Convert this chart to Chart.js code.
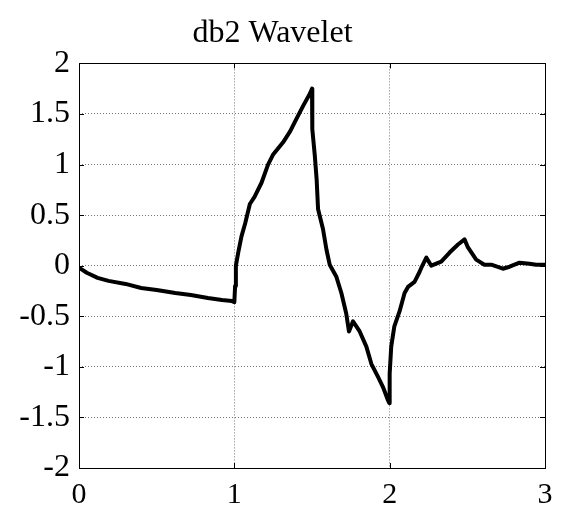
<!DOCTYPE html>
<html>
<head>
<meta charset="utf-8">
<script src="https://cdn.jsdelivr.net/npm/chart.js@4/dist/chart.umd.min.js"></script>
<style>
  html, body { margin: 0; padding: 0; background: #fff; }
  #wrap { width: 563px; height: 512px; }
</style>
</head>
<body>
<div id="wrap"><canvas id="wavelet"></canvas></div>
<script>
// wavelet function psi(t), sampled along the support [0, 3]
const waveT = [
  0, 0.05, 0.12, 0.19, 0.30, 0.40, 0.50, 0.62, 0.72, 0.83, 0.92, 0.985, 1.0,
  1.005, 1.01, 1.025, 1.046, 1.07, 1.10, 1.13, 1.175, 1.217, 1.25, 1.314, 1.36,
  1.389, 1.443, 1.486, 1.5, 1.502, 1.518, 1.53, 1.539, 1.571, 1.593, 1.614,
  1.657, 1.689, 1.72, 1.738, 1.764, 1.807, 1.85, 1.882, 1.925, 1.957, 1.989,
  1.998, 2.0, 2.01, 2.03, 2.064, 2.096, 2.118, 2.16, 2.193, 2.204, 2.236, 2.268,
  2.332, 2.386, 2.44, 2.482, 2.504, 2.557, 2.61, 2.654, 2.729, 2.772, 2.836,
  2.9, 2.943, 3.0
];
const waveV = [
  -0.02, -0.07, -0.12, -0.15, -0.18, -0.22, -0.24, -0.27, -0.29, -0.32, -0.34, -0.35, -0.36,
  -0.2, 0.0, 0.13, 0.29, 0.42, 0.61, 0.68, 0.82, 1.0, 1.10, 1.22, 1.33,
  1.42, 1.58, 1.70, 1.75, 1.35, 1.09, 0.85, 0.56, 0.36, 0.16, 0.01,
  -0.11, -0.27, -0.47, -0.65, -0.55, -0.65, -0.80, -0.97, -1.10, -1.20, -1.33,
  -1.36, -1.07, -0.80, -0.60, -0.45, -0.27, -0.21, -0.16, -0.06, -0.02, 0.08, 0.0,
  0.04, 0.13, 0.21, 0.26, 0.18, 0.06, 0.01, 0.01, -0.03, -0.01, 0.03,
  0.02, 0.01, 0.01
];
const xTicks = [0, 1, 2, 3];
const yTicks = [-2, -1.5, -1, -0.5, 0, 0.5, 1, 1.5, 2];

const serif = "'Liberation Serif', 'Times New Roman', serif";

// box around the axes plus short inward tick marks on all four sides
const axesBox = {
  id: "axesBox",
  afterDatasetsDraw(chart) {
    const { ctx, chartArea: a, scales } = chart;
    const len = 5;
    ctx.save();
    ctx.strokeStyle = "#000";
    ctx.lineWidth = 1;
    ctx.beginPath();
    xTicks.forEach((v) => {
      const px = Math.round(scales.x.getPixelForValue(v)) + 0.5;
      ctx.moveTo(px, a.bottom); ctx.lineTo(px, a.bottom - len);
      ctx.moveTo(px, a.top); ctx.lineTo(px, a.top + len);
    });
    yTicks.forEach((v) => {
      const py = Math.round(scales.y.getPixelForValue(v)) + 0.5;
      ctx.moveTo(a.left, py); ctx.lineTo(a.left + len, py);
      ctx.moveTo(a.right, py); ctx.lineTo(a.right - len, py);
    });
    ctx.stroke();
    ctx.strokeRect(Math.round(a.left) + 0.5, Math.round(a.top) + 0.5,
      Math.round(a.right - a.left), Math.round(a.bottom - a.top));
    ctx.restore();
  },
};

new Chart(document.getElementById("wavelet"), {
  type: "line",
  data: {
    datasets: [
      {
        data: waveT.map((t, i) => ({ x: t, y: waveV[i] })),
        borderColor: "#000",
        borderWidth: 4,
        borderJoinStyle: "round",
        borderCapStyle: "round",
        pointRadius: 0,
        tension: 0,
      },
    ],
  },
  options: {
    responsive: true,
    maintainAspectRatio: false,
    animation: false,
    layout: { padding: { left: 0, right: 18, top: 0, bottom: 0 } },
    plugins: {
      legend: { display: false },
      tooltip: { enabled: false },
      title: {
        display: true,
        text: "db2 Wavelet",
        color: "#000",
        font: { family: serif, size: 32, weight: "normal" },
        padding: { top: 14, bottom: 11 },
      },
    },
    scales: {
      x: {
        type: "linear",
        min: 0,
        max: 3,
        afterBuildTicks: (s) => { s.ticks = xTicks.map((v) => ({ value: v })); },
        afterFit: (s) => { s.height = 44; },
        ticks: {
          color: "#000",
          font: { family: serif, size: 30 },
          padding: 9,
          callback: (v) => String(v),
        },
        grid: { color: "#777", lineWidth: 1, drawTicks: false },
        border: { display: false, dash: [1, 2] },
      },
      y: {
        min: -2,
        max: 2,
        afterBuildTicks: (s) => { s.ticks = yTicks.map((v) => ({ value: v })); },
        afterFit: (s) => { s.width = 79; },
        ticks: {
          color: "#000",
          font: { family: serif, size: 32 },
          padding: 9,
          callback: (v) => String(v),
        },
        grid: { color: "#777", lineWidth: 1, drawTicks: false },
        border: { display: false, dash: [1, 2] },
      },
    },
  },
  plugins: [axesBox],
});
</script>
</body>
</html>
